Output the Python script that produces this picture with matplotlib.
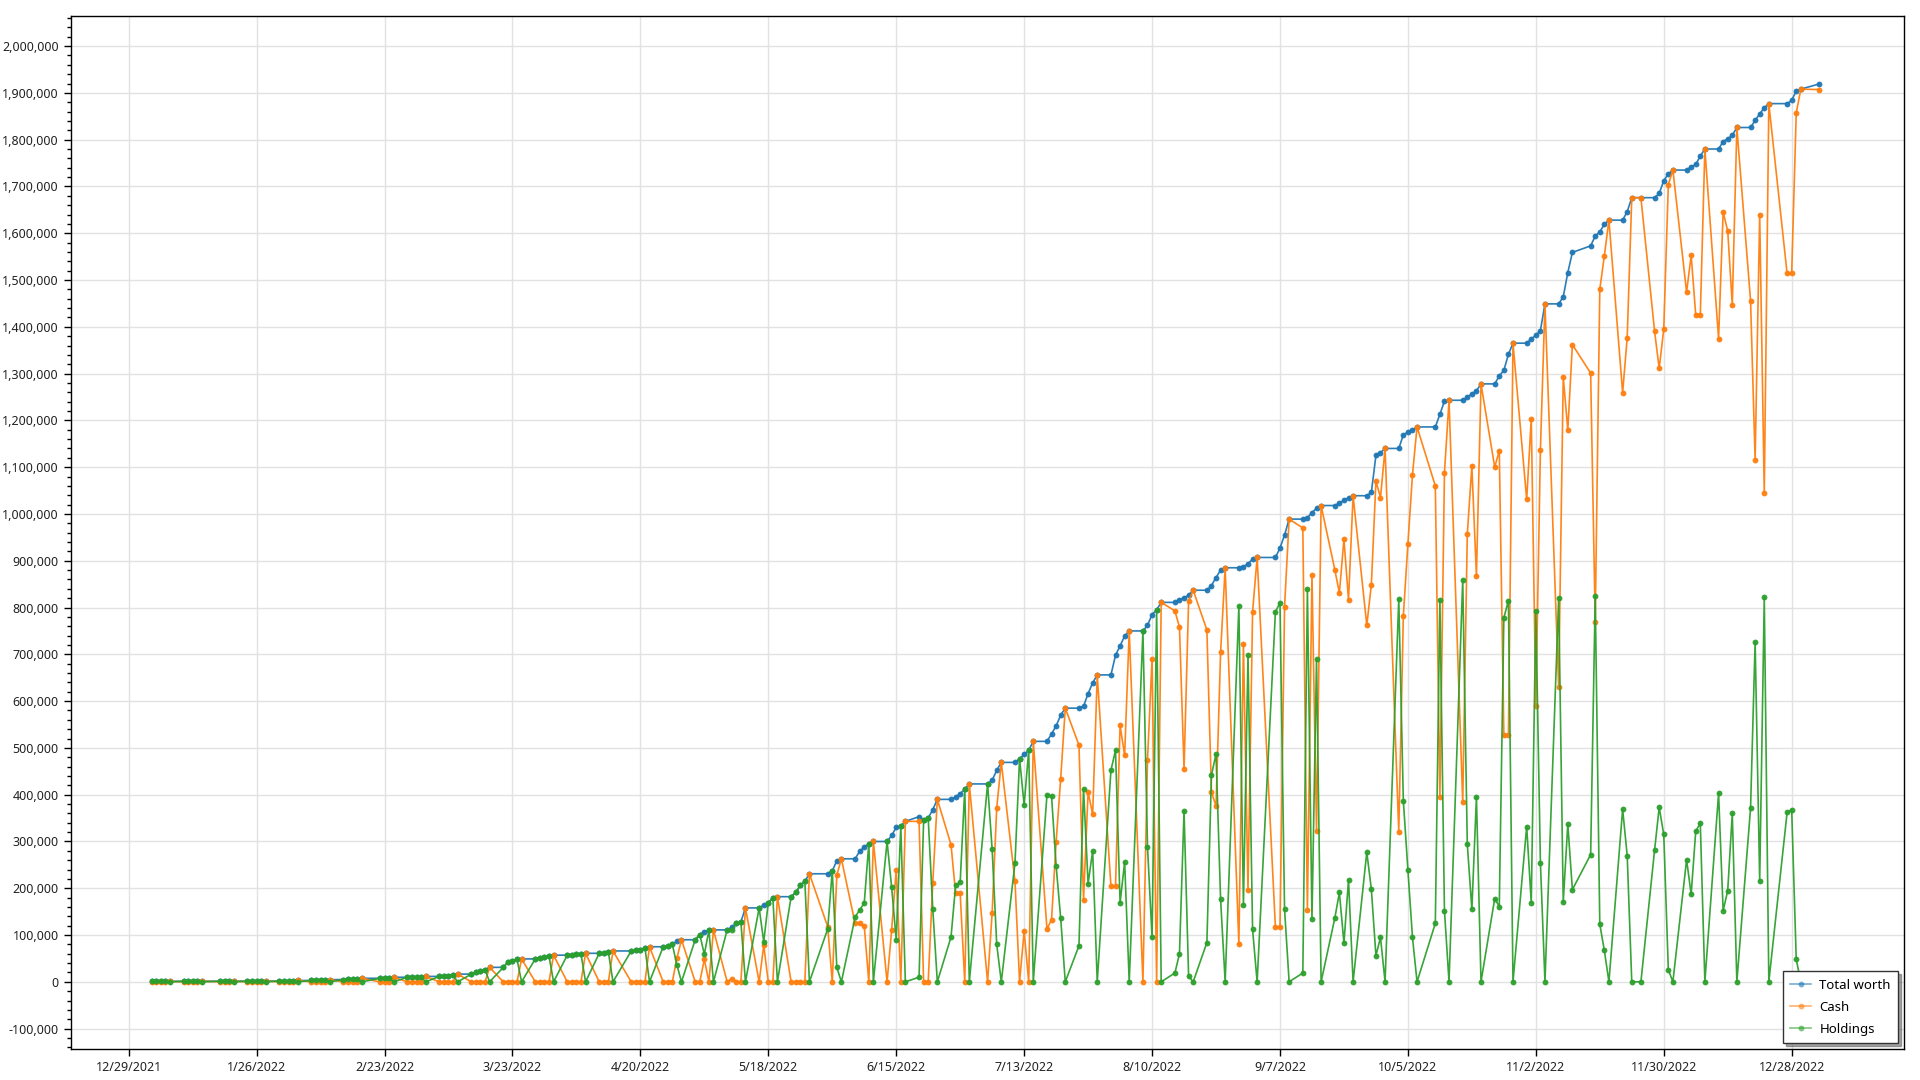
import numpy as np
import pandas as pd
import matplotlib
matplotlib.use("Agg")
import matplotlib.pyplot as plt
import matplotlib.dates as mdates
from matplotlib.ticker import FuncFormatter, AutoMinorLocator, MultipleLocator

plt.rcParams['font.family'] = ['Noto Sans', 'DejaVu Sans']

# trading calendar used by the data (weekdays minus these closed days)
closed_days = ['2022-01-17', '2022-02-21', '2022-04-15', '2022-05-30', '2022-07-04',
               '2022-09-05', '2022-10-10', '2022-11-11', '2022-11-24', '2022-12-26',
               '2023-01-02']
first_day = '2022-01-03'
last_day = '2023-01-03'

# one row per week
total_worth = [
    1000, 1020, 1050, 1080, 1100,
    1100, 1130, 1170, 1200, 1240,
    1240, 1280, 1330, 1380,
    1380, 1450, 1520, 1600, 1680,
    1680, 1900, 2200, 2500, 2900,
    2900, 3300, 3700, 4200, 4800,
    4800, 5400, 6000, 6800, 7600,
    7600, 8300, 9000, 9800,
    9800, 10300, 10800, 11200, 11600,
    11600, 12500, 13500, 14500, 16500,
    16500, 21000, 24000, 26000, 31000,
    31000, 42000, 45000, 48000, 49000,
    49000, 52000, 53000, 55000, 57000,
    57000, 58000, 59000, 60000, 61000,
    61000, 62000, 64000, 66000,
    66000, 67000, 68000, 73000, 75000,
    75000, 76000, 80000, 87000, 90000,
    90000, 101000, 107000, 110000, 111000,
    111000, 117000, 125000, 128000, 158000,
    158000, 164000, 169000, 179000, 182000,
    182000, 191000, 206000, 215000, 231000,
    231000, 237000, 259000, 263000,
    263000, 279000, 288000, 295000, 300000,
    300000, 313000, 330000, 333000, 343000,
    353000, 345000, 350000, 368000, 390000,
    390000, 395000, 402000, 412000, 423000,
    423000, 431000, 452000, 469000,
    469000, 477000, 486000, 495000, 514000,
    514000, 530000, 547000, 570000, 585000,
    585000, 589000, 616000, 639000, 656000,
    656000, 698000, 718000, 739000, 750000,
    750000, 762000, 785000, 795000, 811000,
    811000, 817000, 821000, 826000, 837000,
    837000, 847000, 864000, 880000, 885000,
    885000, 887000, 894000, 903000, 907000,
    907000, 927000, 955000, 989000,
    989000, 992000, 1003000, 1012000, 1018000,
    1018000, 1023000, 1029000, 1035000, 1039000,
    1039000, 1046000, 1125000, 1131000, 1140000,
    1140000, 1169000, 1175000, 1179000, 1186000,
    1186000, 1213000, 1241000, 1243000,
    1243000, 1249000, 1257000, 1263000, 1278000,
    1278000, 1295000, 1307000, 1341000, 1365000,
    1365000, 1374000, 1382000, 1392000, 1449000,
    1449000, 1464000, 1516000, 1559000,
    1573000, 1594000, 1603000, 1619000, 1628000,
    1628000, 1646000, 1676000, 1676000,
    1676000, 1685000, 1712000, 1727000, 1735000,
    1735000, 1742000, 1747000, 1765000, 1780000,
    1780000, 1796000, 1802000, 1809000, 1826000,
    1826000, 1841000, 1855000, 1868000, 1877000,
    1877000, 1884000, 1904000, 1908000,
    1919000,
]

cash = [
    0, 0, 0, 0, 1100,
    0, 0, 0, 0, 1240,
    0, 0, 0, 1380,
    0, 0, 0, 0, 1680,
    0, 0, 0, 0, 2900,
    0, 0, 0, 0, 4800,
    0, 0, 0, 0, 7600,
    0, 0, 0, 9800,
    0, 0, 0, 0, 11600,
    0, 0, 0, 0, 16500,
    0, 0, 0, 0, 31000,
    0, 0, 0, 0, 49000,
    0, 0, 0, 0, 57000,
    0, 0, 0, 0, 61000,
    0, 0, 0, 66000,
    0, 0, 0, 0, 75000,
    0, 0, 0, 51000, 90000,
    0, 0, 48000, 0, 111000,
    0, 7000, 0, 0, 158000,
    0, 78000, 0, 0, 182000,
    0, 0, 0, 0, 231000,
    118000, 0, 228000, 263000,
    125000, 125000, 120000, 0, 300000,
    0, 111000, 240000, 0, 343000,
    343000, 0, 0, 212000, 390000,
    293000, 189000, 189000, 0, 423000,
    0, 148000, 372000, 469000,
    215000, 0, 108000, 0, 514000,
    113000, 133000, 299000, 434000, 585000,
    506000, 175000, 406000, 358000, 656000,
    204000, 204000, 548000, 484000, 750000,
    0, 474000, 690000, 0, 811000,
    793000, 758000, 455000, 814000, 837000,
    752000, 405000, 376000, 704000, 885000,
    80000, 722000, 196000, 791000, 907000,
    117000, 117000, 801000, 989000,
    970000, 153000, 869000, 322000, 1018000,
    881000, 831000, 946000, 816000, 1039000,
    762000, 849000, 1070000, 1035000, 1140000,
    321000, 782000, 936000, 1084000, 1186000,
    1060000, 395000, 1088000, 1243000,
    384000, 957000, 1102000, 867000, 1278000,
    1100000, 1135000, 528000, 528000, 1365000,
    1031000, 1204000, 590000, 1137000, 1449000,
    630000, 1293000, 1179000, 1362000,
    1301000, 769000, 1480000, 1552000, 1628000,
    1259000, 1377000, 1676000, 1676000,
    1390000, 1311000, 1395000, 1704000, 1735000,
    1474000, 1553000, 1425000, 1425000, 1780000,
    1375000, 1645000, 1605000, 1447000, 1826000,
    1456000, 1115000, 1640000, 1045000, 1877000,
    1514000, 1514000, 1857000, 1908000,
    1907000,
]

holdings = [
    1000, 1020, 1050, 1080, 0,
    1100, 1130, 1170, 1200, 0,
    1240, 1280, 1330, 0,
    1380, 1450, 1520, 1600, 0,
    1680, 1900, 2200, 2500, 0,
    2900, 3300, 3700, 4200, 0,
    4800, 5400, 6000, 6800, 0,
    7600, 8300, 9000, 0,
    9800, 10300, 10800, 11200, 0,
    11600, 12500, 13500, 14500, 0,
    16500, 21000, 24000, 26000, 0,
    31000, 42000, 45000, 48000, 0,
    49000, 52000, 53000, 55000, 0,
    57000, 58000, 59000, 60000, 0,
    61000, 62000, 64000, 0,
    66000, 67000, 68000, 73000, 0,
    75000, 76000, 80000, 36000, 0,
    90000, 101000, 59000, 110000, 0,
    111000, 110000, 125000, 128000, 0,
    158000, 86000, 169000, 179000, 0,
    182000, 191000, 206000, 215000, 0,
    113000, 237000, 31000, 0,
    138000, 154000, 168000, 295000, 0,
    300000, 202000, 90000, 333000, 0,
    10000, 345000, 350000, 156000, 0,
    96000, 206000, 213000, 412000, 0,
    423000, 283000, 80000, 0,
    254000, 477000, 378000, 495000, 0,
    400000, 397000, 248000, 136000, 0,
    77000, 413000, 210000, 280000, 0,
    452000, 495000, 169000, 256000, 0,
    750000, 289000, 95000, 795000, 0,
    19000, 60000, 365000, 12000, 0,
    84000, 442000, 487000, 176000, 0,
    804000, 165000, 698000, 112000, 0,
    791000, 810000, 155000, 0,
    19000, 840000, 134000, 690000, 0,
    136000, 191000, 83000, 218000, 0,
    277000, 198000, 56000, 95000, 0,
    818000, 387000, 239000, 95000, 0,
    125000, 817000, 152000, 0,
    859000, 294000, 155000, 395000, 0,
    178000, 161000, 778000, 815000, 0,
    332000, 169000, 793000, 255000, 0,
    821000, 171000, 337000, 197000,
    272000, 825000, 123000, 67000, 0,
    369000, 270000, 0, 0,
    282000, 373000, 315000, 26000, 0,
    261000, 187000, 322000, 339000, 0,
    403000, 152000, 195000, 360000, 0,
    371000, 727000, 216000, 822000, 0,
    362000, 368000, 48000, 0,
    12000,
]

tick_start = '2021-12-29'
tick_count = 14


def main():
    dates = pd.bdate_range(first_day, last_day, freq='C', holidays=closed_days)
    assert len(dates) == len(total_worth) == len(cash) == len(holdings)

    fig = plt.figure(figsize=(19.2, 10.8), dpi=100)
    ax = fig.add_axes([0.0368, 0.0285, 0.9549, 0.957])

    series = [('Total worth', total_worth, '#1f77b4'),
              ('Cash', cash, '#ff7f0e'),
              ('Holdings', holdings, '#2ca02c')]
    for label, values, color in series:
        ax.plot(dates, values, color=color, lw=1.2, marker='o', markersize=4.2,
                markeredgewidth=0, label=label, alpha=0.95)

    # axes limits / ticks
    t0 = mdates.date2num(pd.Timestamp(tick_start))
    ax.set_xlim(t0 - 12.7, t0 + 388.6)
    ax.set_ylim(-144000, 2065000)

    ticks = pd.date_range(tick_start, periods=tick_count, freq='28D')
    ax.set_xticks(ticks)
    ax.set_xticklabels([f"{d.month}/{d.day}/{d.year}" for d in ticks])
    ax.yaxis.set_major_locator(MultipleLocator(100000))
    ax.yaxis.set_minor_locator(AutoMinorLocator(5))
    ax.yaxis.set_major_formatter(FuncFormatter(lambda v, p: f"{v:,.0f}"))

    ax.tick_params(axis='both', which='major', length=5, width=1, color='black',
                   labelsize=9, labelcolor='#222222')
    ax.tick_params(axis='y', which='minor', length=3, width=1, color='black')
    ax.grid(True, which='major', color='#e2e2e2', lw=1)
    ax.set_axisbelow(True)
    for s in ax.spines.values():
        s.set_color('black')
        s.set_linewidth(1)

    leg = ax.legend(loc='lower right', fontsize=9.5, frameon=True, fancybox=False,
                    shadow=True, edgecolor='#333333', borderaxespad=0.45,
                    handlelength=1.6, handletextpad=0.6, borderpad=0.55,
                    labelspacing=0.7)
    leg.get_frame().set_linewidth(1)
    for h in leg.get_lines():
        h.set_alpha(0.6)

    fig.savefig('out.png', dpi=100)


if __name__ == '__main__':
    main()
